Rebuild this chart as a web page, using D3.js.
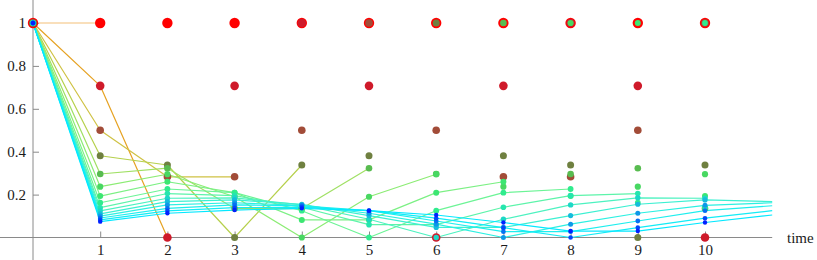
<!DOCTYPE html>
<html><head><meta charset="utf-8">
<script src="https://cdn.jsdelivr.net/npm/d3@7/dist/d3.min.js"></script>
<style>
body{margin:0;background:#fff}
svg{display:block}
</style>
</head><body>
<svg id="chart" width="817" height="260"></svg>
<script>
// time steps 0..11
const times = [0,1,2,3,4,5,6,7,8,9,10,11];
// series values at t = 0..11
const s1  = [1,1,1,1,1,1,1,1,1,1,1,1];
const s2  = [1,0.707,0,0.707,1,0.707,0,0.707,1,0.707,0,0.707];
const s3  = [1,0.5,0.283,0.283,0.5,1,0.5,0.283,0.283,0.5,1,0.5];
const s4  = [1,0.381,0.338,0,0.338,0.381,1,0.381,0.338,0,0.338,0.381];
const s5  = [1,0.296,0.323,0.135,0.135,0.323,0.296,1,0.296,0.323,0.135,0.135];
const s6  = [1,0.237,0.295,0.19,0,0.19,0.295,0.237,1,0.237,0.295,0.19];
const s7  = [1,0.193,0.26,0.209,0.082,0.082,0.209,0.26,0.193,1,0.193,0.26];
const s8  = [1,0.162,0.226,0.209,0.125,0,0.125,0.209,0.226,0.162,1,0.162];
const s9  = [1,0.139,0.205,0.195,0.141,0.06,0.06,0.141,0.195,0.205,0.139,1];
const s10 = [1,0.124,0.183,0.185,0.152,0.085,0,0.085,0.152,0.185,0.183,0.124];
const s11 = [1,0.110,0.167,0.175,0.155,0.102,0.047,0.047,0.102,0.155,0.175,0.167];
const s12 = [1,0.100,0.152,0.162,0.150,0.113,0.062,0,0.062,0.113,0.150,0.162];
const s13 = [1,0.091,0.136,0.152,0.148,0.125,0.077,0.027,0.027,0.077,0.125,0.148];
const s14 = [1,0.082,0.124,0.139,0.142,0.125,0.090,0.046,0,0.046,0.090,0.125];
const s15 = [1,0.074,0.113,0.128,0.136,0.125,0.105,0.070,0.030,0.030,0.070,0.105];
const seriesValues = [s1,s2,s3,s4,s5,s6,s7,s8,s9,s10,s11,s12,s13,s14,s15];
// last time step joined by each series' line
const lineEnds = [1,2,3,4,5,6,7,8,9,10,11,11,11,11,11];
// last time step that carries a point
const pointLastTime = 10;

const pointColors = ["#ff0000","#cf1a2a","#a24c38","#6f8040","#58bc50","#48d862","#3ce672","#30ec8e",
                     "#26e6ae","#1cd8c6","#14bcdc","#0c98e8","#0670f2","#0346fa","#0020ff"];
const lineColors  = ["#f4c078","#e6a222","#cfc244","#b6d04c","#a0e064","#8cec74","#7cf084","#6cf496",
                     "#5cf4aa","#4cf2c0","#3cf0d2","#2cf0e2","#1eeeee","#12ecf6","#04e8ff"];
const pointRadii  = [5.2,4.3,3.8,3.5,3.3,3.1,3.0,2.9,2.8,2.7,2.6,2.5,2.4,2.3,2.2];

const yTickValues = [0.2,0.4,0.6,0.8,1];
const yTickLabels = ["0.2","0.4","0.6","0.8","1"];
const xTickValues = [1,2,3,4,5,6,7,8,9,10];
const xTickLabels = ["1","2","3","4","5","6","7","8","9","10"];
const xAxisTitle = "time";

const fontFamily = "Liberation Serif";
const fontSize = 15;
const svg = d3.select("#chart");
const x = d3.scaleLinear().domain([0,10]).range([33,705]);
const y = d3.scaleLinear().domain([0,1]).range([237.5,23]);
const axisColor = "#8a8a8a";

// axis lines
svg.append("line").attr("x1",0).attr("x2",x(11)).attr("y1",y(0)).attr("y2",y(0))
  .attr("stroke",axisColor).attr("stroke-width",1);
svg.append("line").attr("x1",x(0)).attr("x2",x(0)).attr("y1",0).attr("y2",260)
  .attr("stroke",axisColor).attr("stroke-width",1);

// y axis
const yAxis = d3.axisLeft(y).tickValues(yTickValues)
  .tickFormat((d,i)=>yTickLabels[i]).tickSizeInner(-6).tickSizeOuter(0).tickPadding(7);
const gy = svg.append("g").attr("transform",`translate(${x(0)},0)`).call(yAxis)
  .attr("font-family",fontFamily).attr("font-size",fontSize);
gy.select(".domain").remove();
gy.selectAll(".tick line").attr("stroke",axisColor);
gy.selectAll(".tick text").attr("fill","#1a1a1a");

// x axis
const xAxis = d3.axisBottom(x).tickValues(xTickValues)
  .tickFormat((d,i)=>xTickLabels[i]).tickSizeInner(-6).tickSizeOuter(0).tickPadding(7);
const gx = svg.append("g").attr("transform",`translate(0,${y(0)})`).call(xAxis)
  .attr("font-family",fontFamily).attr("font-size",fontSize);
gx.select(".domain").remove();
gx.selectAll(".tick line").attr("stroke",axisColor);
gx.selectAll(".tick text").attr("fill","#1a1a1a");

svg.append("text").attr("x",787).attr("y",y(0)+5)
  .attr("font-family",fontFamily).attr("font-size",fontSize).attr("fill","#1a1a1a").text(xAxisTitle);

// lines
const line = d3.line().x(d=>x(d.t)).y(d=>y(d.v));
const gl = svg.append("g");
seriesValues.forEach((vals,k)=>{
  const pts = times.filter(t=>t<=lineEnds[k]).map(t=>({t, v: vals[t]}));
  gl.append("path").datum(pts).attr("d",line).attr("fill","none")
    .attr("stroke",lineColors[k]).attr("stroke-width",1.2).attr("stroke-linejoin","round");
});

// points
const gp = svg.append("g");
seriesValues.forEach((vals,k)=>{
  const pts = times.filter(t=>t<=pointLastTime).map(t=>({t, v: vals[t]}));
  gp.selectAll(null).data(pts).enter().append("circle")
    .attr("cx",d=>x(d.t)).attr("cy",d=>y(d.v)).attr("r",pointRadii[k])
    .attr("fill",pointColors[k]);
});
</script>
</body></html>
